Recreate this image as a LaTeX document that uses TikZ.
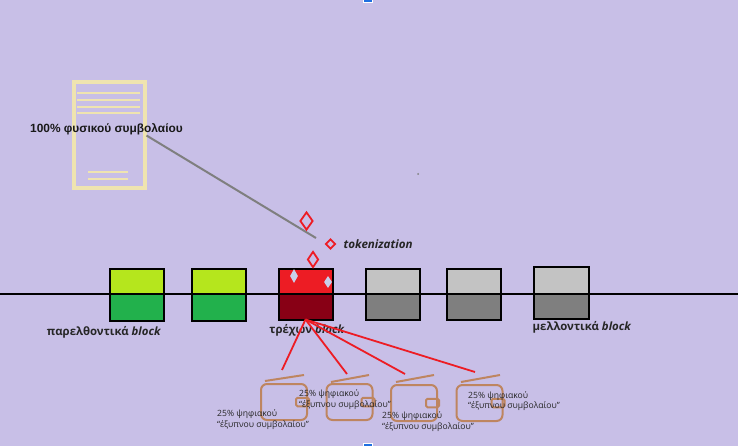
\documentclass[tikz,border=0pt]{standalone}
\usepackage{fontspec}
\setmainfont{Open Sans}
\newfontfamily\arialfont{Liberation Sans}
\usetikzlibrary{shapes.geometric, positioning}
\definecolor{bgcol}{HTML}{C8BFE7}
\definecolor{papercol}{HTML}{EFE4B0}
\definecolor{limecol}{HTML}{B5E61D}
\definecolor{greencol}{HTML}{22B14C}
\definecolor{redcol}{HTML}{ED1C24}
\definecolor{darkredcol}{HTML}{880015}
\definecolor{lightgraycol}{HTML}{C3C3C3}
\definecolor{graycol}{HTML}{7F7F7F}
\definecolor{walletcol}{HTML}{BE8560}
\definecolor{iceblue}{HTML}{C9CFEA}
\definecolor{handlecol}{HTML}{1F6FE0}

\begin{document}
\begin{tikzpicture}[
    x=1pt, y=-1pt,
    blockpart/.style={rectangle, draw=black, line width=2pt, minimum width=54pt, inner sep=0pt, outer sep=0pt},
    uppart/.style={blockpart, minimum height=25pt, anchor=south},
    lowpart/.style={blockpart, minimum height=27pt, anchor=north},
    sheet/.style={rectangle, draw=papercol, line width=4pt, minimum width=71pt, minimum height=106pt, inner sep=0pt},
    sheetline/.style={draw=papercol, line width=2pt},
    gem/.style={diamond, draw=redcol, line width=1.8pt, inner sep=0pt, aspect=0.72},
    icegem/.style={diamond, fill=iceblue, inner sep=0pt, aspect=0.6},
    blocklabel/.style={font=\fontsize{11.4}{13}\selectfont\bfseries, inner sep=0pt, text=black!85},
    walletbody/.style={rectangle, draw=walletcol, rounded corners=6pt, line width=2pt, minimum width=46pt, minimum height=36pt, inner sep=0pt},
    walletclasp/.style={rectangle, draw=walletcol, rounded corners=1.5pt, line width=2pt, minimum width=13pt, minimum height=8.5pt, inner sep=0pt, anchor=east, xshift=2pt},
    walletflap/.style={draw=walletcol, line width=2pt},
    share/.style={draw=redcol, line width=1.8pt},
    sharelabel/.style={font=\fontsize{8.6}{10.8}\selectfont, align=left, anchor=north west, inner sep=0pt, text=black!85},
]
\useasboundingbox[fill=bgcol] (0,0) rectangle (738,446);

% Physical contract
\node[sheet] (contract) at (109,135.5) {};
\foreach \ypos in {93.5,100,107,113.5}
    \draw[sheetline] (77,\ypos) -- (140,\ypos);
\foreach \ypos in {172,179}
    \draw[sheetline] (88,\ypos) -- (128,\ypos);
\node[font=\arialfont\fontsize{11.9}{13}\selectfont\bfseries, inner sep=0pt, text=black!90] (contractlabel) at (106.5,129.5) {100\% φυσικού συμβολαίου};

% Blocks
\node[uppart, fill=limecol] (past1up) at (137,293.5) {};
\node[lowpart, fill=greencol, below=0pt of past1up] (past1low) {};
\node[uppart, fill=limecol] (past2up) at (218.5,293.5) {};
\node[lowpart, fill=greencol, below=0pt of past2up] (past2low) {};
\node[uppart, fill=redcol] (nowup) at (305.5,293.5) {};
\node[lowpart, fill=darkredcol, below=0pt of nowup, minimum height=26pt] (nowlow) {};
\node[uppart, fill=lightgraycol] (next1up) at (392.5,293.5) {};
\node[lowpart, fill=graycol, below=0pt of next1up, minimum height=26pt] (next1low) {};
\node[uppart, fill=lightgraycol] (next2up) at (474,293.5) {};
\node[lowpart, fill=graycol, below=0pt of next2up, minimum height=26pt] (next2low) {};
\node[uppart, fill=lightgraycol, minimum width=55pt, minimum height=27pt] (next3up) at (561,293.5) {};
\node[lowpart, fill=graycol, below=0pt of next3up, minimum width=55pt, minimum height=25pt] (next3low) {};

% Chain
\coordinate (chainstart) at (0,293.5);
\coordinate (chainend) at (738,293.5);
\draw[line width=2pt] (chainstart) -- (chainend);

\node[blocklabel] (pastlabel) at (104,332) {παρελθοντικά \textit{block}};
\node[blocklabel] (nowlabel) at (307,330.5) {τρέχων \textit{block}};
\node[blocklabel] (nextlabel) at (582,327.5) {μελλοντικά \textit{block}};

% Tokenization
\coordinate (tokenend) at (316,238);
\draw[draw=graycol, line width=2pt] (contract.east) -- (tokenend);
\node[gem, minimum width=13pt, minimum height=18pt] (gem1) at (306.5,221) {};
\node[gem, minimum width=10pt, minimum height=10pt, aspect=1] (gem2) at (330.5,244) {};
\node[gem, minimum width=11pt, minimum height=16pt] (gem3) at (313,259.5) {};
\node[icegem, minimum width=8pt, minimum height=14pt] (gem4) at (294,276) {};
\node[icegem, minimum width=8pt, minimum height=12pt] (gem5) at (328,282) {};
\node[font=\fontsize{11.6}{13}\selectfont\bfseries\itshape, inner sep=0pt, text=black!85, right=7pt of gem2] (tokenlabel) {tokenization};

% Wallets
\node[walletbody] (wallet1) at (284,402) {};
\node[walletclasp] (clasp1) at (wallet1.east) {};
\draw[walletflap] (265,381) coordinate (flap1a) -- (304,375) coordinate (flap1b);
\node[walletbody] (wallet2) at (349.5,402) {};
\node[walletclasp] (clasp2) at (wallet2.east) {};
\draw[walletflap] (331,382) coordinate (flap2a) -- (369,375) coordinate (flap2b);
\node[walletbody] (wallet3) at (414,403) {};
\node[walletclasp] (clasp3) at (wallet3.east) {};
\draw[walletflap] (396,382) coordinate (flap3a) -- (434,375) coordinate (flap3b);
\node[walletbody] (wallet4) at (479.5,403) {};
\node[walletclasp] (clasp4) at (wallet4.east) {};
\draw[walletflap] (461,382) coordinate (flap4a) -- (500,375) coordinate (flap4b);

% Shares
\coordinate (share1) at (282,370);
\coordinate (share2) at (347,374);
\coordinate (share3) at (405,374);
\coordinate (share4) at (475,372);
\draw[share] (nowlow.south) -- (share1);
\draw[share] (nowlow.south) -- (share2);
\draw[share] (nowlow.south) -- (share3);
\draw[share] (nowlow.south) -- (share4);

\node[sharelabel] (share1label) at (217,409.5) {25\% ψηφιακού\\``έξυπνου συμβολαίου"};
\node[sharelabel] (share2label) at (299,389.5) {25\% ψηφιακού\\``έξυπνου συμβολαίου"};
\node[sharelabel] (share3label) at (382,411.5) {25\% ψηφιακού\\``έξυπνου συμβολαίου"};
\node[sharelabel] (share4label) at (468,391) {25\% ψηφιακού\\``έξυπνου συμβολαίου"};

% Editor marks
\node[circle, fill=graycol, inner sep=0pt, minimum size=2pt] (speck) at (418,174) {};
\node[rectangle, fill=handlecol, draw=white, line width=1pt, minimum width=9pt, minimum height=6pt, inner sep=0pt] (handletop) at (368,0) {};
\node[rectangle, fill=handlecol, draw=white, line width=1pt, minimum width=9pt, minimum height=6pt, inner sep=0pt] (handlebottom) at (368,446) {};
\end{tikzpicture}
\end{document}
